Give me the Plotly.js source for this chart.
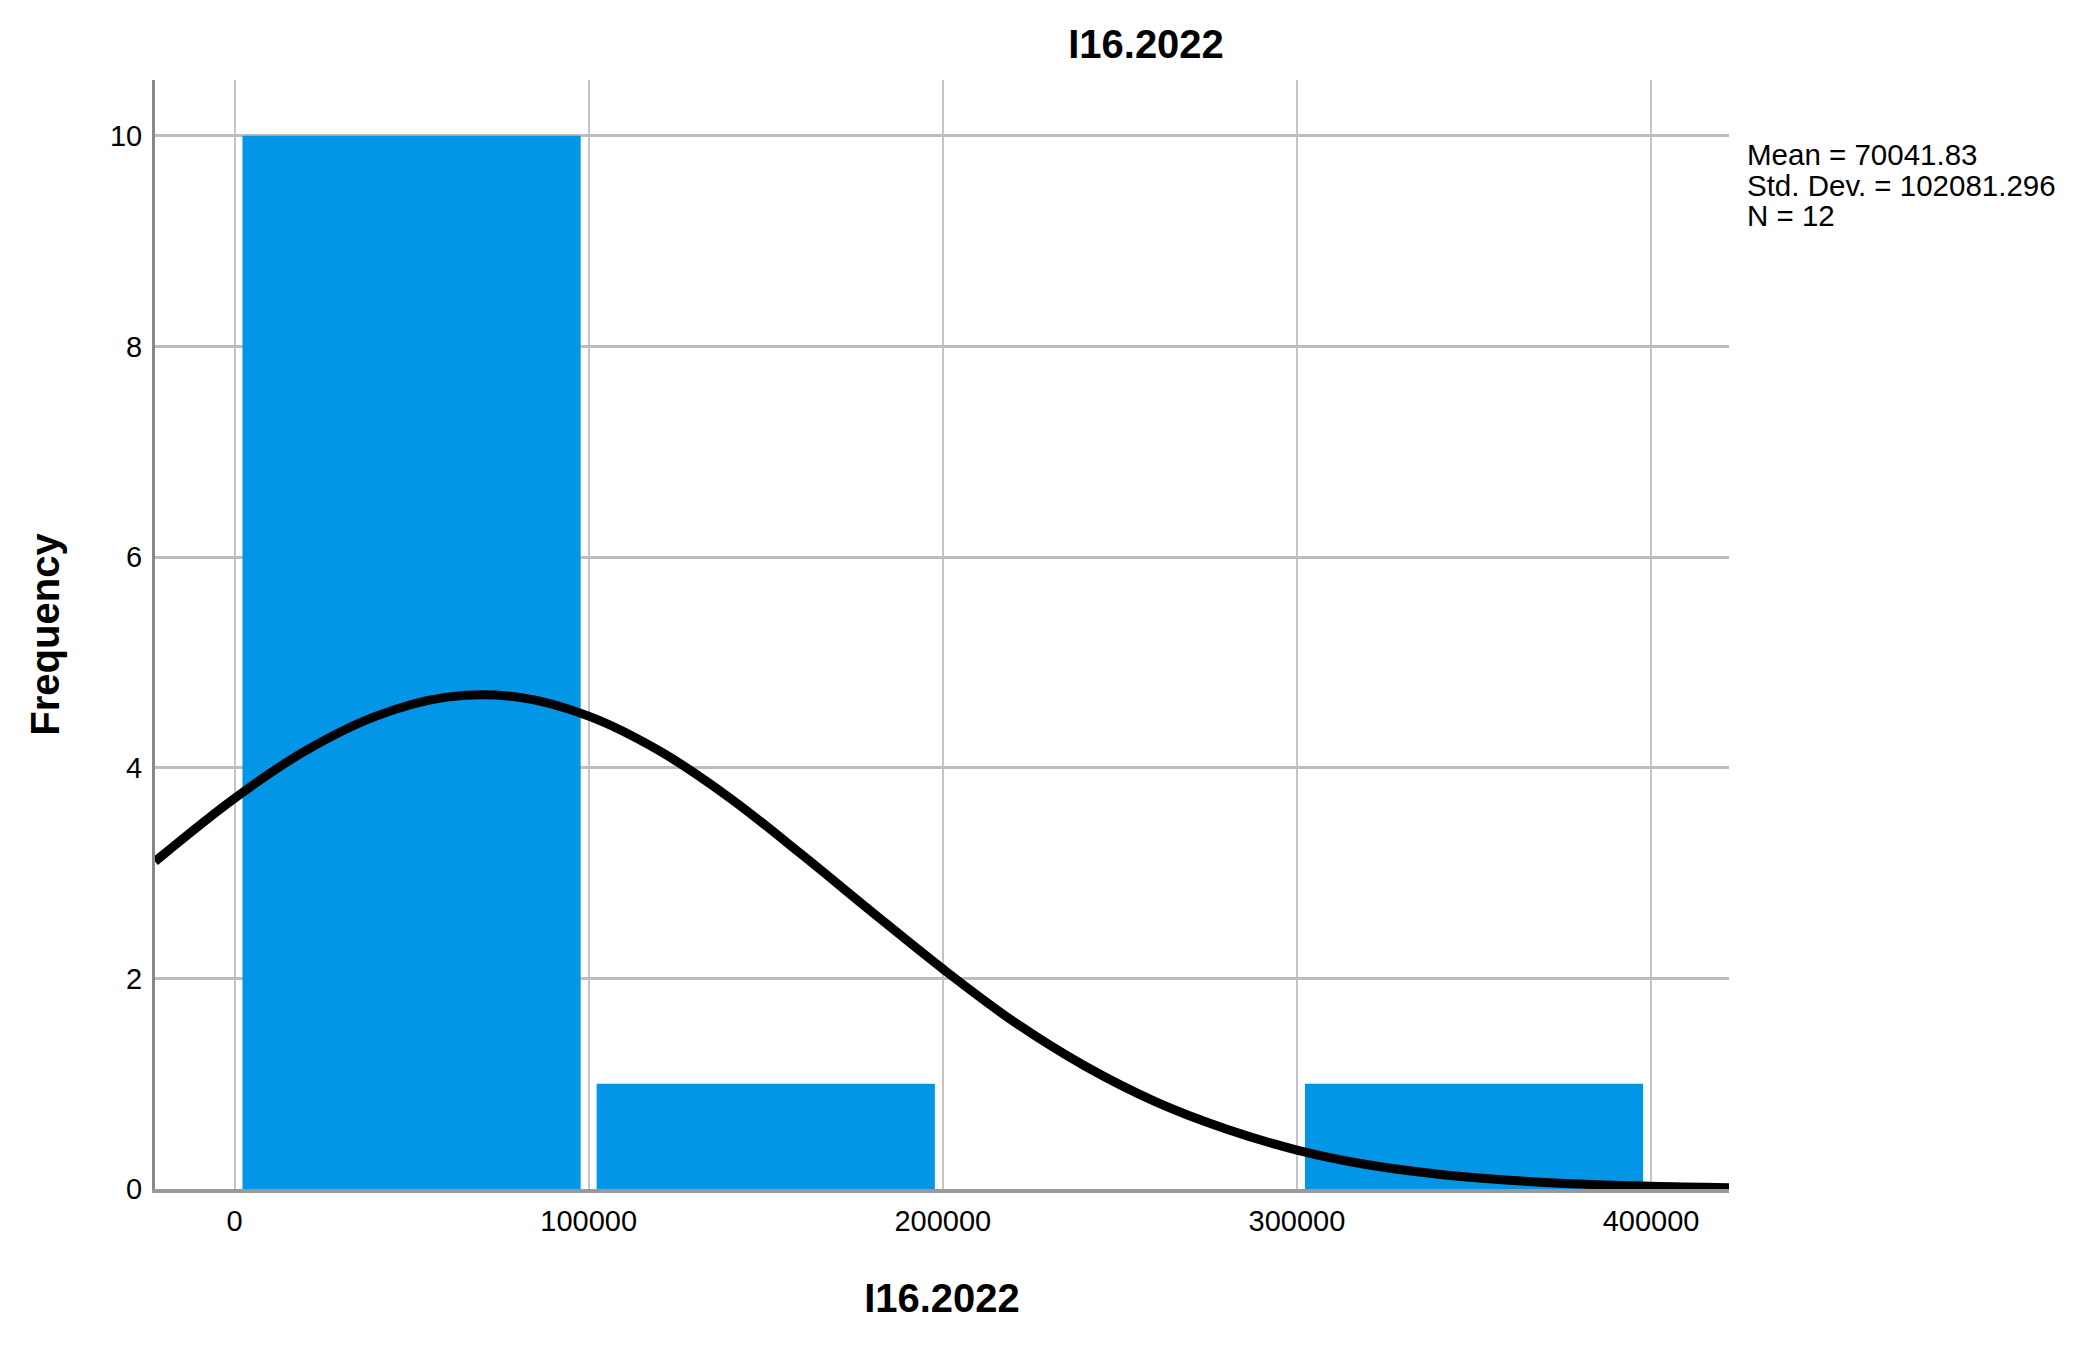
<!DOCTYPE html>
<html>
<head>
<meta charset="utf-8">
<script src="https://cdn.plot.ly/plotly-3.0.1.min.js"></script>
<style>
  body { margin: 0; background: #fff; }
  #chart { width: 2078px; height: 1345px; }
</style>
</head>
<body>
<div id="chart"></div>
<script>
// histogram bins (centre of each 100000-wide bin) and counts
const binCenters = [50000, 150000, 250000, 350000];
const binCounts = [10, 1, 0, 1];

// normal curve
const curveX = [-22450, 0, 20000, 40000, 60000, 80000, 100000, 120000, 140000,
    160000, 180000, 200000, 220000, 240000, 260000, 280000, 300000, 320000, 340000,
    360000, 380000, 400000, 422000];
const curveY = [3.11, 3.71, 4.16, 4.49, 4.67, 4.67, 4.49, 4.16, 3.71,
    3.18, 2.63, 2.09, 1.59, 1.17, 0.83, 0.57, 0.37, 0.23, 0.14,
    0.083, 0.047, 0.025, 0.012];

const xTicks = [0, 100000, 200000, 300000, 400000];
const yTicks = [0, 2, 4, 6, 8, 10];
const statLines = ['Mean = 70041.83', 'Std. Dev. = 102081.296', 'N = 12'];

const font = 'Liberation Sans, Arial, sans-serif';

const bars = {
    x: binCenters,
    y: binCounts,
    type: 'bar',
    width: 95500,
    marker: { color: '#0396e6', line: { width: 0 } },
    hoverinfo: 'skip'
};

const curve = {
    x: curveX,
    y: curveY,
    mode: 'lines',
    type: 'scatter',
    line: { color: '#000', width: 9, shape: 'spline', smoothing: 1 },
    hoverinfo: 'skip'
};

const statY = [9.82, 9.53, 9.24];
const annotations = statLines.map(function (t, i) {
    return {
        text: t, xref: 'paper', x: 1, xshift: 16, xanchor: 'left',
        yref: 'y', y: statY[i], yanchor: 'middle', showarrow: false,
        font: { family: font, size: 29.5, color: '#000' }
    };
});

const layout = {
    width: 2078,
    height: 1345,
    margin: { l: 155, r: 349, t: 80, b: 156 },
    paper_bgcolor: '#fff',
    plot_bgcolor: '#fff',
    showlegend: false,
    title: {
        text: '<b>I16.2022</b>',
        font: { family: font, size: 40, color: '#000' },
        xref: 'container', x: 0.5515, xanchor: 'center',
        yref: 'container', y: 0.967, yanchor: 'middle'
    },
    xaxis: {
        range: [-22450, 422000],
        tickvals: xTicks,
        ticktext: xTicks.map(String),
        ticks: '',
        ticklabelstandoff: 3,
        tickfont: { family: font, size: 29, color: '#000' },
        showgrid: true,
        gridcolor: '#c4c4c4',
        gridwidth: 2,
        zeroline: false,
        showline: true,
        linecolor: '#999',
        linewidth: 4,
        title: {
            text: '<b>I16.2022</b>',
            font: { family: font, size: 40, color: '#000' },
            standoff: 49
        }
    },
    yaxis: {
        range: [0, 10.53],
        tickvals: yTicks,
        ticks: '',
        ticklabelstandoff: 4,
        tickfont: { family: font, size: 29, color: '#000' },
        showgrid: true,
        gridcolor: '#bdbdbd',
        gridwidth: 3,
        zeroline: false,
        showline: true,
        linecolor: '#888',
        linewidth: 3,
        title: {
            text: '<b>Frequency</b>',
            font: { family: font, size: 40, color: '#000' },
            standoff: 38
        }
    },
    annotations: annotations
};

Plotly.newPlot('chart', [bars, curve], layout, { displayModeBar: false, staticPlot: true });
</script>
</body>
</html>
